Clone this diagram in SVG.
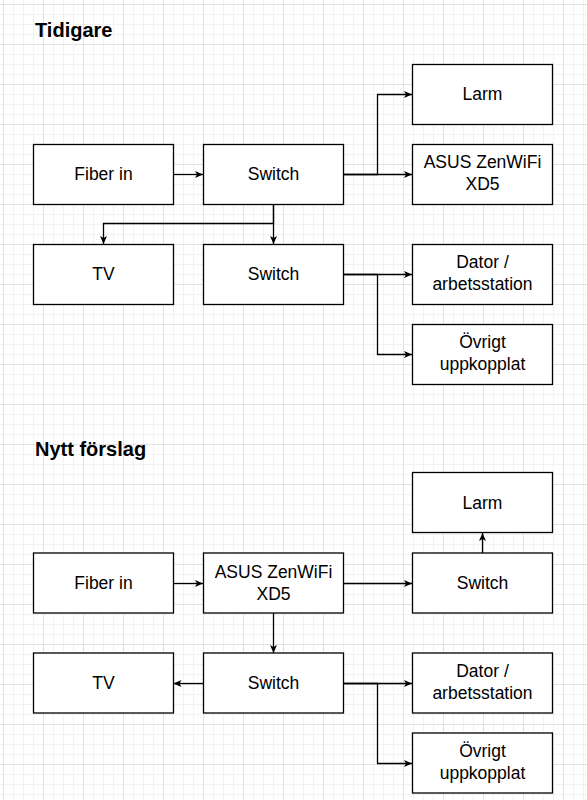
<svg xmlns="http://www.w3.org/2000/svg" width="587" height="800" viewBox="0 0 587 800">
<defs>
<pattern id="grid" patternUnits="userSpaceOnUse" x="3" y="4" width="40" height="40">
<path d="M10.5 0V40M20.5 0V40M30.5 0V40M0 10.5H40M0 20.5H40M0 30.5H40" stroke="#f2f2f2" stroke-width="1" fill="none"/>
<path d="M0.5 0V40M0 0.5H40" stroke="#e2e2e2" stroke-width="1" fill="none"/>
</pattern>
<marker id="arr" viewBox="0 0 8 7" refX="8" refY="3.5" markerWidth="8" markerHeight="7" markerUnits="userSpaceOnUse" orient="auto">
<path d="M0,0 L8,3.5 L0,7 L2,3.5 z" fill="#000"/>
</marker>
</defs>
<style>
.box{fill:#fff;stroke:#000;stroke-width:1.3}
.lbl{font-family:"Liberation Sans",Arial,sans-serif;font-size:17.5px;fill:#000;text-anchor:middle}
.title{font-family:"Liberation Sans",Arial,sans-serif;font-size:20px;font-weight:bold;fill:#000}
.con{fill:none;stroke:#000;stroke-width:1.3;marker-end:url(#arr)}
</style>
<rect width="587" height="800" fill="#fff"/>
<rect width="587" height="800" fill="url(#grid)"/>

<text class="title" x="35" y="37">Tidigare</text>
<text class="title" x="35" y="456">Nytt förslag</text>

<g id="connectors">
<path class="con" d="M173.5 174.5H203"/>
<path class="con" d="M343.5 174.5H377.5V94.5H412"/>
<path class="con" d="M343.5 174.5H412"/>
<path class="con" d="M273.5 204.5V223.5H103.5V244"/>
<path class="con" d="M273.5 204.5V244"/>
<path class="con" d="M343.5 274.5H412"/>
<path class="con" d="M343.5 274.5H377.5V354.5H412"/>

<path class="con" d="M173.5 583.5H203"/>
<path class="con" d="M343.5 583.5H412"/>
<path class="con" d="M482.5 553V533"/>
<path class="con" d="M273.5 613V653"/>
<path class="con" d="M203 683.5H173.5"/>
<path class="con" d="M343.5 683.5H412"/>
<path class="con" d="M343.5 683.5H377.5V763.5H412"/>
</g>

<g id="t-fiber"><rect class="box" x="33.5" y="144.5" width="140" height="60"/><text class="lbl" x="103.5" y="179.5">Fiber in</text></g>
<g id="t-switch1"><rect class="box" x="203.5" y="144.5" width="140" height="60"/><text class="lbl" x="273.5" y="179.5">Switch</text></g>
<g id="t-larm"><rect class="box" x="412.5" y="64.5" width="140" height="60"/><text class="lbl" x="482.5" y="99.5">Larm</text></g>
<g id="t-asus"><rect class="box" x="412.5" y="144.5" width="140" height="60"/><text class="lbl" x="482.5" y="167.5">ASUS ZenWiFi</text><text class="lbl" x="482.5" y="189.5">XD5</text></g>
<g id="t-tv"><rect class="box" x="33.5" y="244.5" width="140" height="60"/><text class="lbl" x="103.5" y="279.5">TV</text></g>
<g id="t-switch2"><rect class="box" x="203.5" y="244.5" width="140" height="60"/><text class="lbl" x="273.5" y="279.5">Switch</text></g>
<g id="t-dator"><rect class="box" x="412.5" y="244.5" width="140" height="60"/><text class="lbl" x="482.5" y="267.5">Dator /</text><text class="lbl" x="482.5" y="289.5">arbetsstation</text></g>
<g id="t-ovrigt"><rect class="box" x="412.5" y="324.5" width="140" height="60"/><text class="lbl" x="482.5" y="347.5">Övrigt</text><text class="lbl" x="482.5" y="369.5">uppkopplat</text></g>

<g id="n-larm"><rect class="box" x="412.5" y="472.5" width="140" height="60"/><text class="lbl" x="482.5" y="508.5">Larm</text></g>
<g id="n-fiber"><rect class="box" x="33.5" y="553" width="140" height="60"/><text class="lbl" x="103.5" y="589">Fiber in</text></g>
<g id="n-asus"><rect class="box" x="203.5" y="553" width="140" height="60"/><text class="lbl" x="273.5" y="577.5">ASUS ZenWiFi</text><text class="lbl" x="273.5" y="599.5">XD5</text></g>
<g id="n-switch1"><rect class="box" x="412.5" y="553" width="140" height="60"/><text class="lbl" x="482.5" y="589">Switch</text></g>
<g id="n-tv"><rect class="box" x="33.5" y="653" width="140" height="60"/><text class="lbl" x="103.5" y="689">TV</text></g>
<g id="n-switch2"><rect class="box" x="203.5" y="653" width="140" height="60"/><text class="lbl" x="273.5" y="689">Switch</text></g>
<g id="n-dator"><rect class="box" x="412.5" y="653" width="140" height="60"/><text class="lbl" x="482.5" y="677">Dator /</text><text class="lbl" x="482.5" y="699">arbetsstation</text></g>
<g id="n-ovrigt"><rect class="box" x="412.5" y="733" width="140" height="60"/><text class="lbl" x="482.5" y="757">Övrigt</text><text class="lbl" x="482.5" y="779">uppkopplat</text></g>
</svg>
